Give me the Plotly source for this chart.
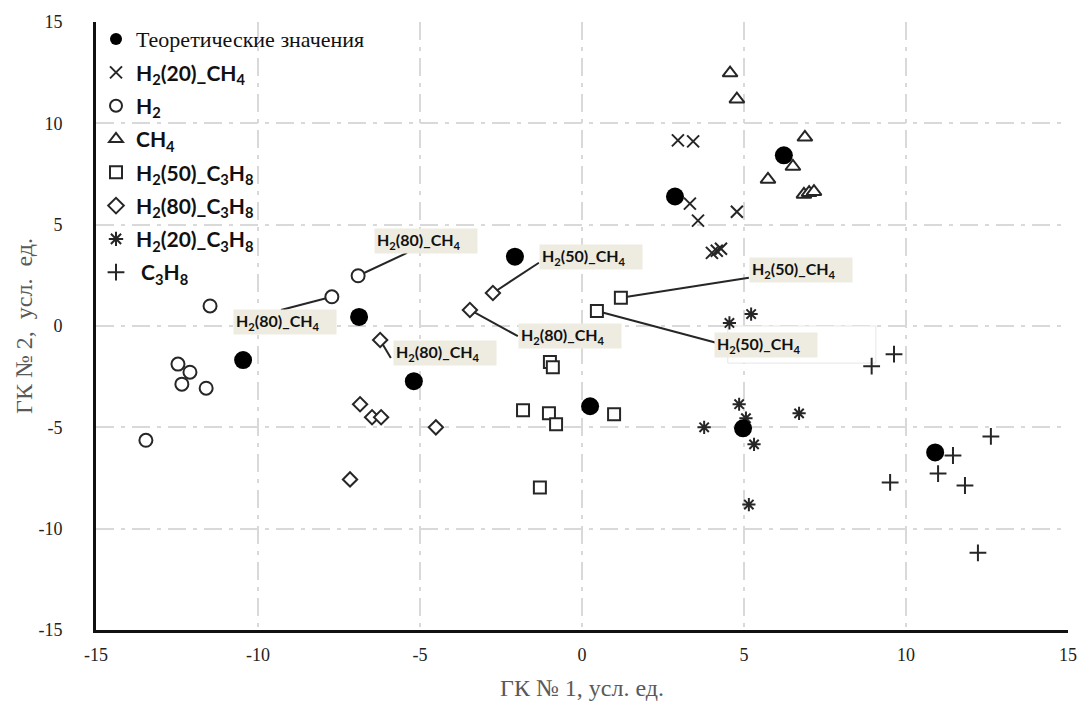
import plotly.graph_objects as go

# ---------------- data ----------------
theor_x = [-10.46, -6.88, -5.19, -2.07, 0.25, 2.87, 6.23, 4.97, 10.90]
theor_y = [-1.68, 0.45, -2.72, 3.42, -3.96, 6.39, 8.42, -5.05, -6.24]

h2_20_ch4_x = [2.96, 3.43, 3.33, 3.58, 4.78, 4.01, 4.29, 4.16]
h2_20_ch4_y = [9.16, 9.11, 6.04, 5.20, 5.64, 3.61, 3.81, 3.71]

h2_x = [-11.48, -7.72, -6.91, -12.47, -12.10, -12.35, -11.60, -13.46]
h2_y = [0.99, 1.44, 2.48, -1.88, -2.28, -2.87, -3.07, -5.64]

ch4_x = [4.57, 4.78, 6.88, 6.51, 5.74, 6.85, 7.01, 7.16]
ch4_y = [12.48, 11.19, 9.31, 7.87, 7.23, 6.49, 6.58, 6.63]

h2_50_c3h8_x = [1.20, 0.46, -0.99, -0.90, -1.82, -1.02, -0.80, 0.99, -1.30]
h2_50_c3h8_y = [1.39, 0.74, -1.78, -2.03, -4.16, -4.31, -4.85, -4.36, -7.97]

h2_80_c3h8_x = [-6.23, -2.75, -3.46, -6.85, -6.48, -6.20, -4.51, -7.16]
h2_80_c3h8_y = [-0.69, 1.63, 0.79, -3.86, -4.50, -4.50, -5.00, -7.57]

h2_20_c3h8_x = [3.77, 4.85, 5.06, 5.31, 6.70, 5.15, 5.22, 4.55]
h2_20_c3h8_y = [-5.00, -3.86, -4.55, -5.84, -4.31, -8.81, 0.59, 0.15]

c3h8_x = [8.94, 9.63, 12.62, 11.45, 10.99, 11.82, 9.51, 12.22]
c3h8_y = [-1.98, -1.39, -5.45, -6.39, -7.28, -7.87, -7.72, -11.19]

tick_vals = [-15, -10, -5, 0, 5, 10, 15]
tick_text = ["-15", "-10", "-5", "0", "5", "10", "15"]

# callout labels: (text, series x, series y, point index, line end x, line end y, box left x, box mid y)
lbl_80 = "H<sub>2</sub>(80)_CH<sub>4</sub>"
lbl_50 = "H<sub>2</sub>(50)_CH<sub>4</sub>"
callouts = [
    (lbl_80, h2_x, h2_y, 2, -5.40, 3.61, -6.42, 4.21),
    (lbl_80, h2_x, h2_y, 1, -9.29, 0.79, -10.77, 0.20),
    (lbl_80, h2_80_c3h8_x, h2_80_c3h8_y, 0, -5.90, -1.58, -5.83, -1.31),
    (lbl_50, h2_80_c3h8_x, h2_80_c3h8_y, 1, -1.33, 3.12, -1.33, 3.42),
    (lbl_80, h2_80_c3h8_x, h2_80_c3h8_y, 2, -1.98, -0.50, -1.98, -0.50),
    (lbl_50, h2_50_c3h8_x, h2_50_c3h8_y, 0, 5.15, 2.38, 5.15, 2.75),
    (lbl_50, h2_50_c3h8_x, h2_50_c3h8_y, 1, 4.17, -0.84, 4.07, -0.92),
]

INK = "#262626"
SANS = "Lato"
SERIF = "Liberation Serif"

fig = go.Figure()

def add(name, xs, ys, symbol, size, fill, lw=2, rank=10):
    fig.add_trace(go.Scatter(
        x=xs, y=ys, mode="markers", name=name, legendgroup="g%d" % rank, legendrank=rank,
        marker=dict(symbol=symbol, size=size, color=fill,
                    line=dict(color=INK, width=lw)),
    ))

def b(s):
    return "<b>" + s + "</b>"

add(b("H<sub>2</sub>(20)_CH<sub>4</sub>"), h2_20_ch4_x, h2_20_ch4_y, "x-thin", 12, INK, rank=2)
add(b("H<sub>2</sub>"), h2_x, h2_y, "circle", 13, "white", rank=3)
add(b("CH<sub>4</sub>"), ch4_x, ch4_y, "triangle-up", 13, "white", rank=4)
add(b("H<sub>2</sub>(50)_C<sub>3</sub>H<sub>8</sub>"), h2_50_c3h8_x, h2_50_c3h8_y, "square", 12, "white", rank=5)
add(b("H<sub>2</sub>(80)_C<sub>3</sub>H<sub>8</sub>"), h2_80_c3h8_x, h2_80_c3h8_y, "diamond", 11, "white", rank=6)
add(b("H<sub>2</sub>(20)_C<sub>3</sub>H<sub>8</sub>"), h2_20_c3h8_x, h2_20_c3h8_y, "asterisk", 11, INK, rank=7)
add(b(" C<sub>3</sub>H<sub>8</sub>"), c3h8_x, c3h8_y, "cross-thin", 12, INK, rank=8)
add('<span style="font-family:Liberation Serif;font-weight:normal;font-size:22px">Теоретические значения</span>',
    theor_x, theor_y, "circle", 18, "#000000", lw=0, rank=1)

shapes = [
    dict(type="rect", xref="x", yref="y", x0=4.5, x1=9.07, y0=-1.83, y1=0.0,
         fillcolor="white", line=dict(color="#e6e6e6", width=1), layer="between"),
]
annotations = []
for text, sx, sy, i, lx, ly, bx, by in callouts:
    shapes.append(dict(type="line", xref="x", yref="y", x0=sx[i], y0=sy[i], x1=lx, y1=ly,
                       line=dict(color=INK, width=2), layer="between"))
    annotations.append(dict(x=bx, y=by, xref="x", yref="y", text="<b>" + text + "</b>",
                            showarrow=False, xanchor="left", yanchor="middle",
                            width=98, height=20, align="left", borderpad=2,
                            bgcolor="#EEECE1", font=dict(family=SANS, size=16, color="#111")))

grid = dict(showgrid=True, gridcolor="#d9d9d9", gridwidth=2, griddash="18px,7px,4px,7px",
            zeroline=False, showline=True, linecolor="#111", linewidth=3,
            tickfont=dict(family=SERIF, size=18, color="#222"), ticks="",
            tickvals=tick_vals, ticktext=tick_text, automargin=False, range=[-15, 15])

fig.update_layout(
    width=1082, height=708,
    margin=dict(l=96, r=14, t=22, b=78),
    paper_bgcolor="white", plot_bgcolor="white",
    xaxis=dict(ticklabelstandoff=6,
               title=dict(text="ГК № 1, усл. ед.", font=dict(family=SERIF, size=24, color="#595959"), standoff=16),
               **grid),
    yaxis=dict(ticklabelstandoff=27,
               title=dict(text="ГК № 2,  усл.  ед.", font=dict(family=SERIF, size=24, color="#595959"), standoff=0),
               **grid),
    legend=dict(x=0.0, y=1.005, xanchor="left", yanchor="top", bgcolor="rgba(0,0,0,0)",
                font=dict(family=SANS, size=21, color="#111"), tracegroupgap=3,
                itemsizing="constant", traceorder="grouped"),
    shapes=shapes, annotations=annotations,
    showlegend=True,
)

fig.write_html("out.html")
